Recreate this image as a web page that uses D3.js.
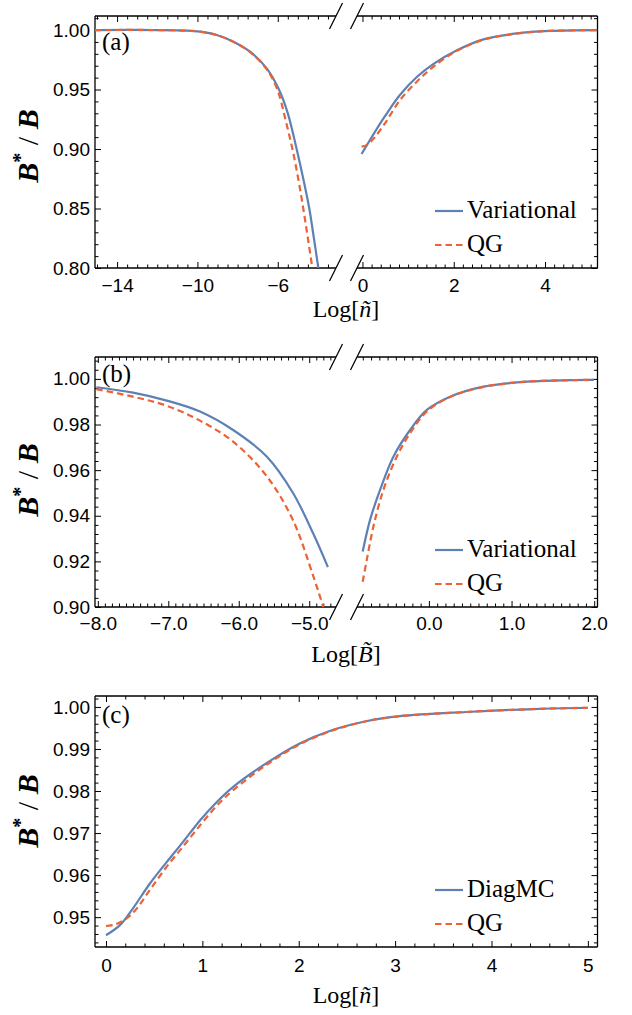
<!DOCTYPE html>
<html>
<head>
<meta charset="utf-8">
<script src="https://cdn.jsdelivr.net/npm/d3@7"></script>
<style>
  body { margin: 0; background: #fff; }
  .tick text { font-family: "Liberation Sans", Arial, sans-serif; font-size: 19px; fill: #000; }
  .serif { font-family: "Liberation Serif", "Times New Roman", serif; fill: #000; }
</style>
</head>
<body>
<div id="chart"></div>
<script>
// ---- data ----
// panel (a): B*/B vs Log[n~], axis broken between -3 and 0
const aTicksLeft = [-14, -10, -6];
const aLabelsLeft = ["\u221214", "\u221210", "\u22126"];
const aTicksRight = [0, 2, 4];
const aLabelsRight = ["0", "2", "4"];
const aYTicks = [0.80, 0.85, 0.90, 0.95, 1.00];
const aVarLeft = [[-15.1,1.0],[-12,1.0],[-10.5,0.9995],[-9.87,0.9986],[-9.04,0.9958],[-8.21,0.9902],[-7.38,0.9818],[-6.55,0.9678],[-5.94,0.95],[-5.5,0.93],[-5.06,0.90],[-4.73,0.875],[-4.43,0.85],[-4.2,0.825],[-3.98,0.80],[-3.9,0.79]];
const aQgLeft  = [[-15.1,1.0],[-12,1.0],[-10.5,0.9995],[-9.87,0.9986],[-9.04,0.9958],[-8.21,0.9901],[-7.38,0.9815],[-6.55,0.967],[-6.02,0.95],[-5.62,0.925],[-5.27,0.90],[-4.98,0.875],[-4.73,0.85],[-4.5,0.825],[-4.28,0.80],[-4.2,0.79]];
const aVarRight = [[-0.02,0.8958],[0.1,0.9035],[0.25,0.913],[0.5,0.928],[0.82,0.9454],[1.19,0.9605],[1.55,0.9714],[2.07,0.983],[2.65,0.9922],[3.38,0.9972],[4.1,0.9993],[5.15,1.0]];
const aQgRight  = [[-0.02,0.902],[0.1,0.9035],[0.25,0.909],[0.5,0.922],[0.82,0.941],[1.19,0.9566],[1.55,0.969],[2.07,0.9826],[2.65,0.9918],[3.38,0.997],[4.1,0.9993],[5.15,1.0]];

// panel (b): B*/B vs Log[B~], axis broken between -4.6 and -0.9
const bTicksLeft = [-8, -7, -6, -5];
const bLabelsLeft = ["\u22128.0", "\u22127.0", "\u22126.0", "\u22125.0"];
const bTicksRight = [0, 1, 2];
const bLabelsRight = ["0.0", "1.0", "2.0"];
const bYTicks = [0.90, 0.92, 0.94, 0.96, 0.98, 1.00];
const bVarLeft = [[-8.02,0.99635],[-7.5,0.994],[-7.02,0.9905],[-6.55,0.9857],[-6.08,0.9776],[-5.6,0.9659],[-5.23,0.950],[-4.94,0.932],[-4.735,0.9175]];
const bQgLeft  = [[-8.02,0.9955],[-7.5,0.9922],[-7.02,0.9882],[-6.55,0.9817],[-6.08,0.9725],[-5.6,0.9572],[-5.23,0.938],[-4.94,0.9133],[-4.80,0.90],[-4.75,0.895]];
const bVarRight = [[-0.801,0.9243],[-0.712,0.9382],[-0.591,0.9513],[-0.43,0.9659],[-0.228,0.9776],[-0.025,0.9864],[0.257,0.9922],[0.661,0.9966],[1.186,0.9988],[1.994,0.9996]];
const bQgRight  = [[-0.801,0.9111],[-0.752,0.9206],[-0.672,0.9352],[-0.551,0.9513],[-0.389,0.9659],[-0.228,0.9762],[-0.025,0.9857],[0.257,0.9921],[0.661,0.9965],[1.186,0.9988],[1.994,0.9996]];

// panel (c): B*/B vs Log[n~], DiagMC vs QG
const cTicks = [0, 1, 2, 3, 4, 5];
const cLabels = ["0", "1", "2", "3", "4", "5"];
const cYTicks = [0.95, 0.96, 0.97, 0.98, 0.99, 1.00];
const cDiag = [[0,0.9457],[0.145,0.9481],[0.28,0.9521],[0.456,0.958],[0.63,0.9631],[0.8,0.9679],[0.975,0.973],[1.15,0.9774],[1.32,0.981],[1.67,0.9867],[2.0,0.9912],[2.35,0.9945],[2.7,0.9966],[3.05,0.9978],[3.74,0.9988],[4.43,0.9995],[5.0,0.9998]];
const cQg   = [[0,0.9479],[0.1,0.9483],[0.2,0.9495],[0.3,0.9515],[0.456,0.9565],[0.63,0.962],[0.8,0.9668],[0.975,0.9718],[1.15,0.9765],[1.32,0.9802],[1.67,0.9863],[2.0,0.991],[2.35,0.9944],[2.7,0.9966],[3.05,0.9978],[3.74,0.9988],[4.43,0.9995],[5.0,0.9998]];

const blue = "#5E81B5", orange = "#EB6235";
const W = 632, H = 1015;
const frameLeft = 95, frameRight = 597.5;

const svg = d3.select("#chart").append("svg")
  .attr("width", W).attr("height", H);

function steps(a, b, step, skip) {
  // tick positions from a to b, dropping the major ones
  const n = Math.round((b - a) / step);
  return d3.range(n + 1).map(i => +(a + i * step).toFixed(5))
    .filter(v => !skip.some(s => Math.abs(s - v) < 1e-6));
}

function drawPanel(p) {
  const g = svg.append("g");
  const y = d3.scaleLinear().domain(p.yDomain).range([p.bottom, p.top]);

  p.segments.forEach((s, i) => {
    s.x = d3.scaleLinear().domain(s.domain).range(s.range);
    const id = p.name + "-clip" + i;
    svg.append("clipPath").attr("id", id).append("rect")
      .attr("x", s.range[0]).attr("y", p.top)
      .attr("width", s.range[1] - s.range[0]).attr("height", p.bottom - p.top);
    s.clip = id;

    // bottom ticks + labels
    g.append("g").attr("transform", "translate(0," + p.bottom + ")")
      .call(d3.axisBottom(s.x).tickValues(s.ticks).tickSize(-6).tickPadding(p.xPad)
        .tickFormat((d, j) => s.labels[j]))
      .call(a => a.select(".domain").remove());
    g.append("g").attr("transform", "translate(0," + p.bottom + ")")
      .call(d3.axisBottom(s.x).tickValues(s.minor).tickSize(-3.5).tickFormat(""))
      .call(a => a.select(".domain").remove());
    // top mirror ticks
    g.append("g").attr("transform", "translate(0," + p.top + ")")
      .call(d3.axisTop(s.x).tickValues(s.ticks).tickSize(-6).tickFormat(""))
      .call(a => a.select(".domain").remove());
    g.append("g").attr("transform", "translate(0," + p.top + ")")
      .call(d3.axisTop(s.x).tickValues(s.minor).tickSize(-3.5).tickFormat(""))
      .call(a => a.select(".domain").remove());

    // frame pieces, top and bottom
    [p.top, p.bottom].forEach(yy => {
      g.append("line").attr("x1", s.range[0]).attr("x2", s.range[1])
        .attr("y1", yy).attr("y2", yy)
        .attr("stroke", "#000").attr("stroke-width", 1.3);
    });
  });

  // y axes
  g.append("g").attr("transform", "translate(" + frameLeft + ",0)")
    .call(d3.axisLeft(y).tickValues(p.yTicks).tickSize(-6).tickPadding(5)
      .tickFormat(d3.format(".2f")))
    .call(a => a.select(".domain").remove());
  g.append("g").attr("transform", "translate(" + frameLeft + ",0)")
    .call(d3.axisLeft(y).tickValues(p.yMinor).tickSize(-3.5).tickFormat(""))
    .call(a => a.select(".domain").remove());
  g.append("g").attr("transform", "translate(" + frameRight + ",0)")
    .call(d3.axisRight(y).tickValues(p.yTicks).tickSize(-6).tickFormat(""))
    .call(a => a.select(".domain").remove());
  g.append("g").attr("transform", "translate(" + frameRight + ",0)")
    .call(d3.axisRight(y).tickValues(p.yMinor).tickSize(-3.5).tickFormat(""))
    .call(a => a.select(".domain").remove());
  [frameLeft, frameRight].forEach(xx => {
    g.append("line").attr("x1", xx).attr("x2", xx)
      .attr("y1", p.top).attr("y2", p.bottom)
      .attr("stroke", "#000").attr("stroke-width", 1.3);
  });
  g.selectAll(".tick line").attr("stroke", "#000").attr("stroke-width", 1);

  // break marks
  if (p.segments.length > 1) {
    const xs = [p.segments[0].range[1], p.segments[1].range[0]];
    [p.top, p.bottom].forEach(yy => xs.forEach(xx => {
      g.append("line")
        .attr("x1", xx - 6.5).attr("y1", yy + 13)
        .attr("x2", xx + 6.5).attr("y2", yy - 13)
        .attr("stroke", "#000").attr("stroke-width", 1.3);
    }));
  }

  // curves
  p.segments.forEach(s => {
    const line = d3.line().x(d => s.x(d[0])).y(d => y(d[1])).curve(d3.curveCatmullRom.alpha(0.5));
    const cg = g.append("g").attr("clip-path", "url(#" + s.clip + ")");
    s.series.forEach(ser => {
      cg.append("path").datum(ser.data)
        .attr("fill", "none")
        .attr("stroke", ser.color)
        .attr("stroke-width", 2.2)
        .attr("stroke-dasharray", ser.dash ? "6.5,4" : null)
        .attr("d", line);
    });
  });

  // legend
  p.legend.forEach((l, i) => {
    const base = p.bottom - 50 + i * 34;
    g.append("line").attr("x1", 435).attr("x2", 463)
      .attr("y1", base - 7).attr("y2", base - 7)
      .attr("stroke", l.color).attr("stroke-width", 2.2)
      .attr("stroke-dasharray", l.dash ? "6.5,4" : null);
    g.append("text").attr("class", "serif").attr("x", 467).attr("y", base)
      .attr("font-size", 25).text(l.label);
  });

  // panel letter
  g.append("text").attr("class", "serif").attr("x", 102).attr("y", p.letterY)
    .attr("font-size", 25).text(p.letter);

  // x title
  const xt = g.append("text").attr("class", "serif")
    .attr("x", 346).attr("y", p.titleY).attr("text-anchor", "middle").attr("font-size", 24);
  xt.append("tspan").text("Log[");
  xt.append("tspan").attr("font-style", "italic").text(p.xVar);
  xt.append("tspan").text("]");

  // y title
  const yt = g.append("text").attr("class", "serif")
    .attr("transform", "translate(38," + p.yTitleY + ") rotate(-90)")
    .attr("text-anchor", "middle").attr("font-size", 30)
    .attr("font-style", "italic").attr("font-weight", "bold");
  yt.append("tspan").text("B");
  yt.append("tspan").attr("font-size", 20).attr("dy", -11).attr("font-style", "normal").text("*");
  yt.append("tspan").attr("dy", 11).attr("font-style", "normal").attr("font-weight", "normal").text(" / ");
  yt.append("tspan").text("B");
}

drawPanel({
  name: "a", top: 16, bottom: 268, yDomain: [0.80, 1.0118],
  yTicks: aYTicks, yMinor: steps(0.80, 1.01, 0.01, aYTicks),
  xPad: 11, letter: "(a)", letterY: 50, titleY: 317, yTitleY: 146, xVar: "\u00f1",
  segments: [
    { domain: [-15.1, -3.1], range: [frameLeft, 336], ticks: aTicksLeft, labels: aLabelsLeft,
      minor: steps(-15, -3.5, 0.5, aTicksLeft),
      series: [{ data: aVarLeft, color: blue }, { data: aQgLeft, color: orange, dash: true }] },
    { domain: [-0.12, 5.15], range: [357, frameRight], ticks: aTicksRight, labels: aLabelsRight,
      minor: steps(0, 5, 0.2, aTicksRight),
      series: [{ data: aVarRight, color: blue }, { data: aQgRight, color: orange, dash: true }] }
  ],
  legend: [{ label: "Variational", color: blue }, { label: "QG", color: orange, dash: true }]
});

drawPanel({
  name: "b", top: 357, bottom: 607, yDomain: [0.90, 1.0096],
  yTicks: bYTicks, yMinor: steps(0.90, 1.008, 0.004, bYTicks),
  xPad: 10, letter: "(b)", letterY: 382, titleY: 662, yTitleY: 480, xVar: "B\u0303",
  segments: [
    { domain: [-8.04, -4.62], range: [frameLeft, 336], ticks: bTicksLeft, labels: bLabelsLeft,
      minor: steps(-8, -4.7, 0.1, bTicksLeft),
      series: [{ data: bVarLeft, color: blue }, { data: bQgLeft, color: orange, dash: true }] },
    { domain: [-0.87, 2.04], range: [357, frameRight], ticks: bTicksRight, labels: bLabelsRight,
      minor: steps(-0.8, 2.0, 0.1, bTicksRight),
      series: [{ data: bVarRight, color: blue }, { data: bQgRight, color: orange, dash: true }] }
  ],
  legend: [{ label: "Variational", color: blue }, { label: "QG", color: orange, dash: true }]
});

drawPanel({
  name: "c", top: 696, bottom: 947, yDomain: [0.9429, 1.0026],
  yTicks: cYTicks, yMinor: steps(0.944, 1.002, 0.002, cYTicks),
  xPad: 12, letter: "(c)", letterY: 723, titleY: 1003, yTitleY: 811, xVar: "\u00f1",
  segments: [
    { domain: [-0.114, 5.10], range: [frameLeft, frameRight], ticks: cTicks, labels: cLabels,
      minor: steps(0, 5, 0.2, cTicks),
      series: [{ data: cDiag, color: blue }, { data: cQg, color: orange, dash: true }] }
  ],
  legend: [{ label: "DiagMC", color: blue }, { label: "QG", color: orange, dash: true }]
});
</script>
</body>
</html>
